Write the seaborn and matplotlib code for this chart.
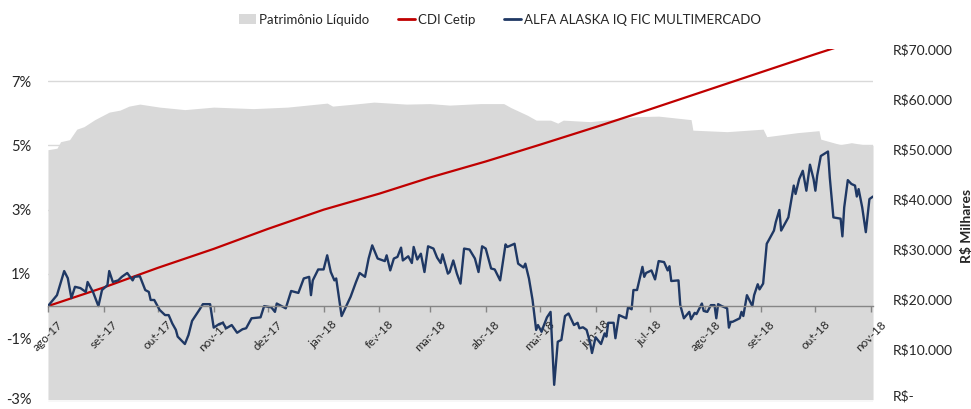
import pandas as pd
import matplotlib.pyplot as plt
import matplotlib.ticker as mticker
import matplotlib.transforms as mtransforms
from matplotlib.patches import Patch
from matplotlib.lines import Line2D
import seaborn as sns

# Patrimônio Líquido (R$ mil)
pl_dates = [
    "2017-08-01", "2017-08-06", "2017-08-08", "2017-08-13", "2017-08-17", "2017-08-21",
    "2017-08-27", "2017-09-04", "2017-09-10", "2017-09-15", "2017-09-21", "2017-10-02",
    "2017-10-16", "2017-11-01", "2017-11-23", "2017-12-12", "2018-01-03", "2018-01-06",
    "2018-01-18", "2018-01-29", "2018-02-16", "2018-03-01", "2018-03-12", "2018-03-29",
    "2018-04-11", "2018-04-15", "2018-04-24", "2018-04-29", "2018-05-07", "2018-05-11",
    "2018-05-14", "2018-05-29", "2018-06-09", "2018-06-24", "2018-07-06", "2018-07-24",
    "2018-07-25", "2018-08-13", "2018-09-02", "2018-09-04", "2018-09-21", "2018-10-03",
    "2018-10-04", "2018-10-15", "2018-10-21", "2018-10-31", "2018-11-02",
]
pl_values = [
    49.9, 50.2, 51.5, 51.9, 54.0, 54.5,
    55.9, 57.4, 57.8, 58.6, 59.0, 58.4,
    57.9, 58.4, 58.1, 58.4, 59.2, 58.6,
    59.0, 59.4, 59.0, 59.1, 58.8, 59.1,
    59.1, 58.3, 56.8, 55.8, 55.8, 55.2,
    55.8, 55.5, 55.9, 56.5, 56.6, 55.9,
    53.8, 53.5, 54.0, 52.5, 53.3, 53.7,
    52.0, 50.9, 51.3, 50.7, 50.8,
]

# CDI Cetip acumulado (%)
cdi_dates = [
    "2017-08-01", "2017-09-01", "2017-10-01", "2017-11-01", "2017-12-01", "2018-01-01",
    "2018-02-01", "2018-03-01", "2018-04-01", "2018-05-01", "2018-06-01", "2018-07-01",
    "2018-08-01", "2018-09-01", "2018-10-01", "2018-11-01",
]
cdi_values = [
    0.00, 0.58, 1.19, 1.78, 2.40, 3.00,
    3.50, 4.00, 4.50, 5.02, 5.57, 6.12,
    6.70, 7.28, 7.84, 8.40,
]

# ALFA ALASKA IQ FIC MULTIMERCADO acumulado (%)
fund_dates = [
    "2017-08-01", "2017-08-06", "2017-08-10", "2017-08-12", "2017-08-14", "2017-08-16",
    "2017-08-19", "2017-08-22", "2017-08-23", "2017-08-26", "2017-08-29", "2017-08-31",
    "2017-09-03", "2017-09-04", "2017-09-06", "2017-09-09", "2017-09-11", "2017-09-14",
    "2017-09-17", "2017-09-18", "2017-09-21", "2017-09-24", "2017-09-26", "2017-09-27",
    "2017-09-29", "2017-10-02", "2017-10-05", "2017-10-07", "2017-10-09", "2017-10-11",
    "2017-10-12", "2017-10-16", "2017-10-18", "2017-10-20", "2017-10-24", "2017-10-26",
    "2017-10-30", "2017-11-01", "2017-11-04", "2017-11-06", "2017-11-08", "2017-11-11",
    "2017-11-14", "2017-11-17", "2017-11-19", "2017-11-22", "2017-11-27", "2017-11-29",
    "2017-12-03", "2017-12-05", "2017-12-06", "2017-12-11", "2017-12-14", "2017-12-18",
    "2017-12-21", "2017-12-24", "2017-12-25", "2017-12-26", "2017-12-29", "2018-01-01",
    "2018-01-03", "2018-01-05", "2018-01-07", "2018-01-08", "2018-01-11", "2018-01-16",
    "2018-01-19", "2018-01-21", "2018-01-24", "2018-01-26", "2018-01-28", "2018-01-31",
    "2018-02-04", "2018-02-05", "2018-02-07", "2018-02-09", "2018-02-11", "2018-02-13",
    "2018-02-14", "2018-02-17", "2018-02-19", "2018-02-20", "2018-02-22", "2018-02-24",
    "2018-02-26", "2018-02-28", "2018-03-03", "2018-03-05", "2018-03-07", "2018-03-08",
    "2018-03-11", "2018-03-12", "2018-03-14", "2018-03-16", "2018-03-18", "2018-03-20",
    "2018-03-23", "2018-03-26", "2018-03-28", "2018-03-30", "2018-04-01", "2018-04-04",
    "2018-04-06", "2018-04-09", "2018-04-12", "2018-04-13", "2018-04-15", "2018-04-17",
    "2018-04-19", "2018-04-22", "2018-04-23", "2018-04-25", "2018-04-27", "2018-04-29",
    "2018-04-30", "2018-05-02", "2018-05-03", "2018-05-05", "2018-05-07", "2018-05-09",
    "2018-05-11", "2018-05-13", "2018-05-15", "2018-05-17", "2018-05-18", "2018-05-20",
    "2018-05-22", "2018-05-23", "2018-05-25", "2018-05-27", "2018-05-29", "2018-05-30",
    "2018-06-01", "2018-06-04", "2018-06-06", "2018-06-07", "2018-06-08", "2018-06-11",
    "2018-06-12", "2018-06-14", "2018-06-18", "2018-06-19", "2018-06-21", "2018-06-22",
    "2018-06-24", "2018-06-27", "2018-06-28", "2018-06-29", "2018-07-02", "2018-07-04",
    "2018-07-06", "2018-07-09", "2018-07-11", "2018-07-12", "2018-07-13", "2018-07-17",
    "2018-07-18", "2018-07-20", "2018-07-23", "2018-07-24", "2018-07-26", "2018-07-27",
    "2018-07-30", "2018-07-31", "2018-08-02", "2018-08-04", "2018-08-06", "2018-08-07",
    "2018-08-08", "2018-08-10", "2018-08-13", "2018-08-14", "2018-08-15", "2018-08-16",
    "2018-08-20", "2018-08-21", "2018-08-22", "2018-08-24", "2018-08-27", "2018-08-28",
    "2018-08-30", "2018-08-31", "2018-09-02", "2018-09-04", "2018-09-05", "2018-09-08",
    "2018-09-09", "2018-09-11", "2018-09-12", "2018-09-16", "2018-09-19", "2018-09-20",
    "2018-09-22", "2018-09-24", "2018-09-26", "2018-09-28", "2018-09-30", "2018-10-01",
    "2018-10-02", "2018-10-04", "2018-10-08", "2018-10-09", "2018-10-11", "2018-10-15",
    "2018-10-16", "2018-10-17", "2018-10-19", "2018-10-21", "2018-10-23", "2018-10-24",
    "2018-10-25", "2018-10-27", "2018-10-29", "2018-10-31", "2018-11-02",
]
fund_values = [
    0.00, 0.34, 1.09, 0.87, 0.25, 0.60,
    0.56, 0.44, 0.75, 0.44, 0.00, 0.50,
    0.65, 1.09, 0.75, 0.80, 0.91, 1.03,
    0.80, 0.91, 0.93, 0.50, 0.44, 0.19,
    0.19, -0.12, -0.28, -0.28, -0.54, -0.74,
    -0.95, -1.18, -0.90, -0.46, -0.12, 0.06,
    0.06, -0.67, -0.56, -0.52, -0.69, -0.59,
    -0.83, -0.72, -0.69, -0.38, -0.35, 0.00,
    -0.04, -0.18, 0.08, -0.07, 0.47, 0.41,
    0.86, 0.91, 0.34, 0.80, 1.14, 1.14,
    1.58, 1.06, 0.80, 0.86, -0.31, 0.29,
    0.75, 1.03, 0.91, 1.48, 1.89, 1.48,
    1.40, 1.58, 1.11, 1.48, 1.53, 1.82,
    1.42, 1.55, 1.34, 1.84, 1.45, 1.63,
    1.06, 1.86, 1.79, 1.51, 1.34, 1.61,
    1.01, 1.06, 1.42, 1.01, 0.70, 1.79,
    1.76, 1.48, 1.06, 1.86, 1.79, 1.17,
    1.14, 0.80, 1.92, 1.84, 1.89, 1.94,
    1.32, 1.20, 1.32, 0.86, 0.19, -0.74,
    -0.59, -0.80, -0.64, -0.35, -0.18, -2.45,
    -1.11, -1.05, -0.31, -0.23, -0.35, -0.59,
    -0.52, -0.69, -0.66, -0.74, -1.15, -1.46,
    -0.97, -1.18, -0.85, -0.95, -0.52, -0.52,
    -1.00, -0.28, -0.38, -0.04, -0.10, 0.50,
    0.50, 1.22, 0.91, 1.03, 1.11, 0.83,
    1.40, 1.37, 1.11, 1.24, 0.78, 0.80,
    0.03, -0.38, -0.18, -0.41, -0.21, -0.25,
    0.08, -0.15, -0.18, 0.03, 0.03, -0.38,
    0.06, 0.00, -0.07, -0.67, -0.49, -0.49,
    -0.38, -0.18, -0.31, 0.34, 0.00, 0.34,
    0.68, 0.52, 0.70, 1.94, 2.04, 2.35,
    2.61, 2.99, 2.35, 2.76, 3.75, 3.49,
    3.95, 4.21, 3.59, 4.40, 3.95, 3.59,
    4.06, 4.67, 4.81, 4.00, 2.76, 2.72,
    2.17, 3.07, 3.92, 3.80, 3.75, 3.41,
    3.64, 3.07, 2.30, 3.33, 3.41,
]

month_labels = [
    "ago-17", "set-17", "out-17", "nov-17", "dez-17", "jan-18", "fev-18", "mar-18",
    "abr-18", "mai-18", "jun-18", "jul-18", "ago-18", "set-18", "out-18", "nov-18",
]
pct_ticks = [-3, -1, 1, 3, 5, 7]
brl_ticks = [0, 10000, 20000, 30000, 40000, 50000, 60000, 70000]

AREA = "#d9d9d9"
RED = "#c00000"
BLUE = "#1f3864"
TEXT = "#262626"

sns.set_theme(style="white")
plt.rcParams["font.family"] = ["Lato", "DejaVu Sans"]

pl = pd.DataFrame({"data": pd.to_datetime(pl_dates), "valor": [v * 1000 for v in pl_values]})
cdi = pd.DataFrame({"data": pd.to_datetime(cdi_dates), "valor": cdi_values})
fund = pd.DataFrame({"data": pd.to_datetime(fund_dates), "valor": fund_values})

fig = plt.figure(figsize=(9.71, 4.09), dpi=100)
ax = fig.add_axes([0.0494, 0.0159, 0.8497, 0.8643])
ax2 = ax.twinx()
ax.set_zorder(ax2.get_zorder() + 1)
ax.patch.set_visible(False)

# area on the secondary axis (R$)
ax2.fill_between(pl["data"], pl["valor"], 0, color=AREA, lw=0)
ax2.set_ylim(-560, 70000)
ax2.set_yticks(brl_ticks)
ax2.yaxis.set_major_formatter(mticker.FuncFormatter(
    lambda v, p: "R$-" if v == 0 else "R$" + f"{int(v):,}".replace(",", ".")))
ax2.tick_params(axis="y", length=0, pad=14, labelsize=10, labelcolor=TEXT)
ax2.set_ylabel("R$ Milhares", fontsize=10, fontweight="bold", color=TEXT, labelpad=6)
for s in ax2.spines.values():
    s.set_visible(False)

# lines on the primary axis (%)
sns.lineplot(data=cdi, x="data", y="valor", ax=ax, color=RED, lw=1.6, estimator=None)
sns.lineplot(data=fund, x="data", y="valor", ax=ax, color=BLUE, lw=1.7, estimator=None)

ax.set_ylim(-3, 8)
ax.set_yticks(pct_ticks)
ax.yaxis.set_major_formatter(mticker.FuncFormatter(lambda v, p: f"{v:.0f}%"))
ax.tick_params(axis="y", length=0, pad=12, labelsize=10.5, labelcolor=TEXT)
ax.yaxis.grid(True, color=AREA, lw=1)
ax.xaxis.grid(False)
ax.set_xlabel("")
ax.set_ylabel("")

# keep the lowest labels inside the figure
lift = mtransforms.ScaledTranslation(0, 3 / 72, fig.dpi_scale_trans)
fig.canvas.draw()
for lbl in ax.get_yticklabels() + ax2.get_yticklabels():
    if lbl.get_text() in ("-3%", "R$-"):
        lbl.set_transform(lbl.get_transform() + lift)

month_starts = pd.date_range("2017-08-01", "2018-11-01", freq="MS")
ax.set_xlim(pd.Timestamp("2017-08-01"), pd.Timestamp("2018-11-02"))
ax.tick_params(axis="x", direction="out", length=4, width=1, color="#868686",
               pad=5, labelsize=8.5, labelcolor=TEXT, bottom=True, labelrotation=45)
ax.set_xticks(month_starts)
ax.set_xticklabels(month_labels)
for lbl in ax.get_xticklabels():
    lbl.set_rotation(45)
    lbl.set_ha("right")
    lbl.set_va("center")
    lbl.set_rotation_mode("anchor")

for side in ["top", "right", "left"]:
    ax.spines[side].set_visible(False)
ax.spines["bottom"].set_position(("data", 0))
ax.spines["bottom"].set_color("#868686")
ax.spines["bottom"].set_linewidth(1)

handles = [
    Patch(facecolor=AREA, edgecolor="none"),
    Line2D([], [], color=RED, lw=2),
    Line2D([], [], color=BLUE, lw=2),
]
fig.legend(handles, ["Patrimônio Líquido", "CDI Cetip", "ALFA ALASKA IQ FIC MULTIMERCADO"],
           loc="center", bbox_to_anchor=(500 / 971, 1 - 20 / 409), ncol=3, frameon=False,
           fontsize=9.5, handlelength=1.3, handleheight=0.8, handletextpad=0.2,
           columnspacing=2.2, labelcolor=TEXT)

fig.savefig("out.png", dpi=100)
